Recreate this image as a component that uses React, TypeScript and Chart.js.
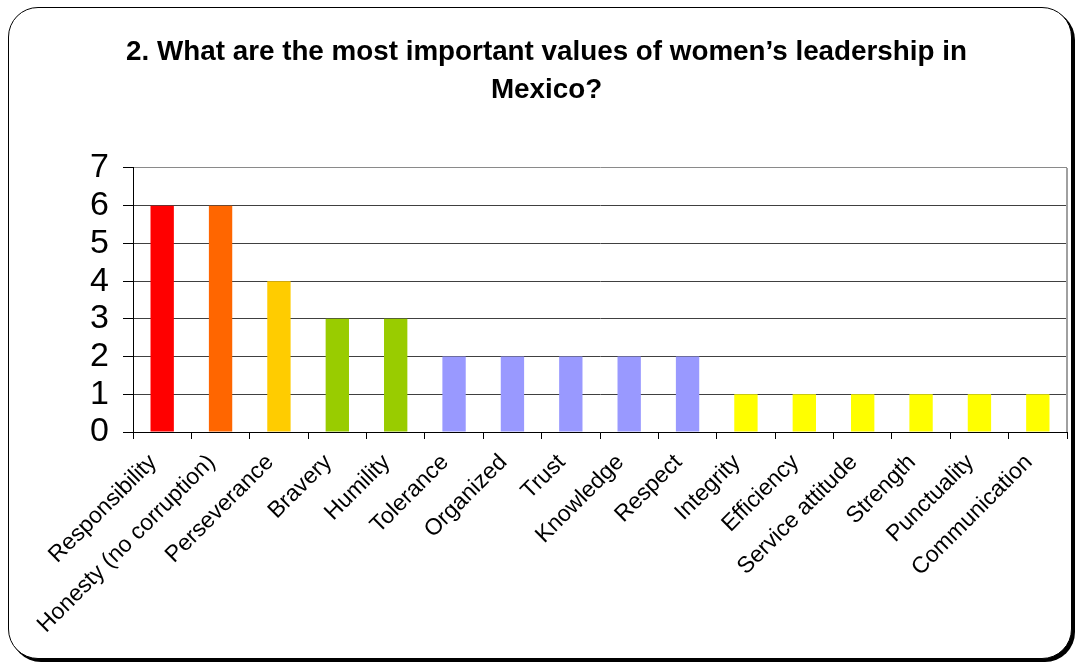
import React, { useEffect, useRef } from "react";
import { Chart, registerables } from "chart.js";

Chart.register(...registerables);

const titleLines = ["2. What are the most important values of women’s leadership in", "Mexico?"];
const categories = [
  "Responsibility",
  "Honesty (no corruption)",
  "Perseverance",
  "Bravery",
  "Humility",
  "Tolerance",
  "Organized",
  "Trust",
  "Knowledge",
  "Respect",
  "Integrity",
  "Efficiency",
  "Service attitude",
  "Strength",
  "Punctuality",
  "Communication",
];
const values = [6, 6, 4, 3, 3, 2, 2, 2, 2, 2, 1, 1, 1, 1, 1, 1];
const barColors = [
  "#FF0000",
  "#FF6600",
  "#FFCC00",
  "#99CC00",
  "#99CC00",
  "#9999FF",
  "#9999FF",
  "#9999FF",
  "#9999FF",
  "#9999FF",
  "#FFFF00",
  "#FFFF00",
  "#FFFF00",
  "#FFFF00",
  "#FFFF00",
  "#FFFF00",
];
const yTicks = [0, 1, 2, 3, 4, 5, 6, 7];

const FONT = "'Liberation Sans', Arial, Helvetica, sans-serif";

const rightBorder = {
  id: "rightBorder",
  afterDraw(chart: any) {
    const { ctx, chartArea } = chart;
    ctx.save();
    ctx.strokeStyle = "#a0a0a0";
    ctx.lineWidth = 2;
    ctx.beginPath();
    ctx.moveTo(chartArea.right, chartArea.top);
    ctx.lineTo(chartArea.right, chartArea.bottom);
    ctx.stroke();
    ctx.restore();
  },
};

export default function App() {
  const ref = useRef<HTMLCanvasElement | null>(null);
  useEffect(() => {
    if (!ref.current) return;
    const chart = new Chart(ref.current, {
      type: "bar",
      data: {
        labels: categories,
        datasets: [
          {
            data: values,
            backgroundColor: barColors,
            borderWidth: 0,
            categoryPercentage: 1,
            barPercentage: 0.4,
          },
        ],
      },
      options: {
        animation: false,
        responsive: false,
        maintainAspectRatio: false,
        layout: { padding: { left: 26, right: 11, top: 0, bottom: 0 } },
        plugins: {
          legend: { display: false },
          tooltip: { enabled: false },
          title: {
            display: true,
            text: titleLines,
            color: "#000",
            font: { family: FONT, size: 27.8, weight: "bold", lineHeight: 1.37 },
            padding: { top: 33, bottom: 58.8 },
          },
        },
        scales: {
          x: {
            offset: true,
            grid: {
              display: true,
              drawOnChartArea: false,
              drawTicks: true,
              tickLength: 7,
              color: "#000",
              offset: true,
            },
            border: { display: true, color: "#000", width: 1 },
            ticks: {
              color: "#000",
              font: { family: FONT, size: 23 },
              minRotation: 45,
              maxRotation: 45,
              autoSkip: false,
              padding: 10,
              labelOffset: -9,
            },
            afterFit(scale: any) {
              scale.height = 231;
            },
          },
          y: {
            min: 0,
            max: 7,
            afterBuildTicks(scale: any) {
              scale.ticks = yTicks.map((v) => ({ value: v }));
            },
            grid: {
              color: (c: any) => (c.tick && c.tick.value === 7 ? "#8a8a8a" : "#404040"),
              tickLength: 10,
              tickColor: "#000",
              lineWidth: 1,
            },
            border: { display: true, color: "#000", width: 1 },
            ticks: {
              color: "#000",
              font: { family: FONT, size: 34, lineHeight: 1 },
              padding: 14,
              stepSize: 1,
              autoSkip: false,
            },
            afterFit(scale: any) {
              scale.width = 107;
            },
          },
        },
      },
      plugins: [rightBorder],
    });
    return () => chart.destroy();
  }, []);

  return (
    <div style={{ position: "absolute", left: 0, top: 0, width: 1078, height: 663, overflow: "hidden", background: "#fff" }}>
      <div
        style={{
          position: "absolute",
          left: 8,
          top: 7,
          width: 1064,
          height: 652,
          boxSizing: "border-box",
          border: "1.5px solid #000",
          borderRadius: 30,
          boxShadow: "3px 3px 0 #000",
          background: "#fff",
        }}
      />
      <canvas ref={ref} width={1078} height={663} style={{ position: "absolute", left: 0, top: 0, width: 1078, height: 663 }} />
    </div>
  );
}
